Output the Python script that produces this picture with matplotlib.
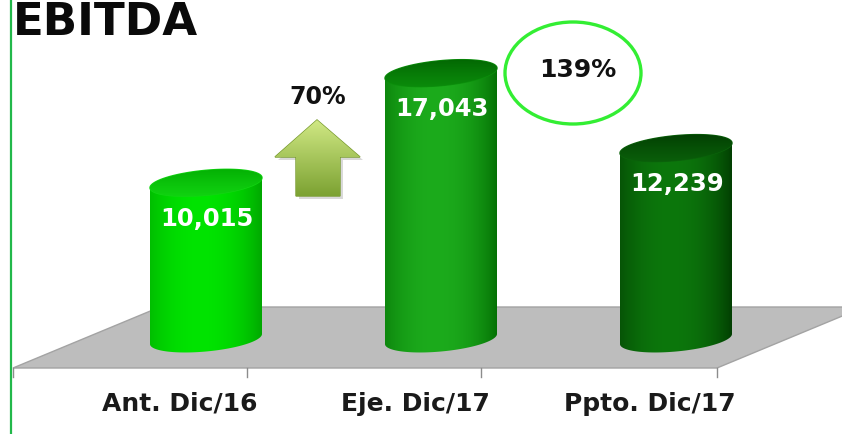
import numpy as np
import matplotlib
matplotlib.use("Agg")
import matplotlib.pyplot as plt
import matplotlib.transforms as mtransforms
from matplotlib.patches import Polygon, Ellipse
from matplotlib.colors import to_rgb

# ---------------- data ----------------
categories = ["Ant. Dic/16", "Eje. Dic/17", "Ppto. Dic/17"]
values = [10015, 17043, 12239]
value_labels = ["10,015", "17,043", "12,239"]
growth_label = "70%"
budget_label = "139%"
title = "EBITDA"

# ---------------- styles ----------------
body_edge = ["#009c00", "#006600", "#003400"]
body_high = ["#00e400", "#1cab1c", "#0c770c"]
top_back = ["#00a600", "#005e00", "#003800"]
top_front = ["#12d612", "#0c900c", "#0b630b"]

W, H = 842, 435
fig = plt.figure(figsize=(W / 100, H / 100), dpi=100)
ax = fig.add_axes([0, 0, 1, 1])
ax.set_axis_off()

PX_PER_CAT = 235.0
PX_PER_VAL = 0.0156
X0_PX = 206.0
BASE_PX = 340.0  # from top
xlim = (-X0_PX / PX_PER_CAT, (W - X0_PX) / PX_PER_CAT)
ylim = (-(H - BASE_PX) / PX_PER_VAL, BASE_PX / PX_PER_VAL)

# pixel (from top-left) transform for decorations
pixT = mtransforms.Affine2D().scale(1 / W, -1 / H).translate(0, 1) + fig.transFigure
catT = mtransforms.blended_transform_factory(ax.transData, pixT)

# ---------------- floor ----------------
floor = Polygon([(13, 369), (160, 308), (864, 308), (717, 369)], closed=True,
                transform=pixT, facecolor="#bdbdbd", edgecolor="#a3a3a3",
                lw=1.0, zorder=1)
ax.add_patch(floor)
for tx in [13, 247, 481, 717]:
    ax.plot([tx, tx], [369, 378], color="#8c8c8c", lw=1.0, transform=pixT, zorder=1)

# ---------------- cylinders ----------------
a = 56 / PX_PER_CAT          # half width in category units
b = 12.5 / PX_PER_VAL        # ellipse semi-minor in value units
k = 0.09 * PX_PER_CAT / PX_PER_VAL  # tilt (value units per category unit)


def mix(c1, c2, w):
    c1, c2 = np.array(to_rgb(c1)), np.array(to_rgb(c2))
    return c1 * (1 - w) + c2 * w


for i, v in enumerate(values):
    cx = float(i)
    t = np.linspace(np.pi, 2 * np.pi, 120)
    bx = cx + a * np.cos(t)
    by = b * np.sin(t) + k * a * np.cos(t)
    pts = [(cx - a, v - k * a)] + list(zip(bx, by)) + [(cx + a, v + k * a)]
    body = Polygon(pts, closed=True, facecolor="none", edgecolor="none", zorder=3)
    ax.add_patch(body)
    u = np.linspace(0, 1, 256)
    w = np.clip(1 - ((u - 0.45) / 0.58) ** 2, 0, 1) ** 0.8
    grad = np.array([mix(body_edge[i], body_high[i], wi) for wi in w])[None, :, :]
    im = ax.imshow(grad, extent=(cx - a, cx + a, -b * 1.6 - k * a, v + k * a + b),
                   aspect="auto", zorder=3, interpolation="bilinear")
    im.set_clip_path(body)

    # top ellipse
    tt = np.linspace(0, 2 * np.pi, 200)
    ex = cx + a * np.cos(tt)
    ey = v + b * np.sin(tt) + k * a * np.cos(tt)
    top = Polygon(list(zip(ex, ey)), closed=True, facecolor="none",
                  edgecolor=top_front[i], lw=1.0, zorder=4)
    ax.add_patch(top)
    s = np.linspace(0, 1, 128)
    tgrad = np.array([mix(top_back[i], top_front[i], si ** 0.8) for si in s])[:, None, :]
    im2 = ax.imshow(tgrad, extent=(cx - a, cx + a, v - b - k * a, v + b + k * a),
                    origin="upper", aspect="auto", zorder=4, interpolation="bilinear")
    im2.set_clip_path(top)

    ax.annotate(value_labels[i], (cx, v), xytext=(1, -35), textcoords="offset pixels",
                ha="center", va="center", color="white", fontsize=17.5,
                fontweight="bold", zorder=6)

    ax.text(cx - 26 / PX_PER_CAT, 404, categories[i], transform=catT,
            ha="center", va="center", fontsize=18, fontweight="bold",
            color="#1a1a1a", zorder=6)

# ---------------- arrow ----------------
arrow_pts = [(317, 121), (360, 158), (340, 158), (340, 197), (296, 197), (296, 158), (275, 158)]
shadow = Polygon([(x + 3, y + 3) for x, y in arrow_pts], closed=True, transform=pixT,
                 facecolor="#000000", alpha=0.15, edgecolor="none", zorder=4)
ax.add_patch(shadow)
arrow = Polygon(arrow_pts, closed=True, transform=pixT, facecolor="none",
                edgecolor="#779a2e", lw=1.0, zorder=5)
ax.add_patch(arrow)
s = np.linspace(0, 1, 128)
agrad = np.array([mix("#d0e884", "#7ca232", si) for si in s])[:, None, :]
im3 = ax.imshow(agrad, extent=(275, 360, 197, 121), transform=pixT, aspect="auto",
                zorder=5, interpolation="bilinear", origin="upper")
im3.set_clip_path(arrow)
ax.text(318, 97, growth_label, transform=pixT, ha="center", va="center",
        fontsize=17, fontweight="bold", color="#111111", zorder=6)

# ---------------- circle ----------------
circ = Ellipse((573, 74), 136, 102, transform=pixT, facecolor="none",
               edgecolor="#33ee33", lw=2.4, zorder=5)
ax.add_patch(circ)
ax.text(578, 70, budget_label, transform=pixT, ha="center", va="center",
        fontsize=18, fontweight="bold", color="#111111", zorder=6)

# ---------------- title & side line ----------------
ax.text(13, 35, title, transform=pixT, ha="left", va="baseline",
        fontsize=32.5, fontweight="bold", color="#0a0a0a", zorder=6)
ax.plot([11, 11], [0, H], color="#22b84a", lw=1.6, transform=pixT, zorder=6)

ax.set_xlim(*xlim)
ax.set_ylim(*ylim)

fig.savefig("out.png", dpi=100)
